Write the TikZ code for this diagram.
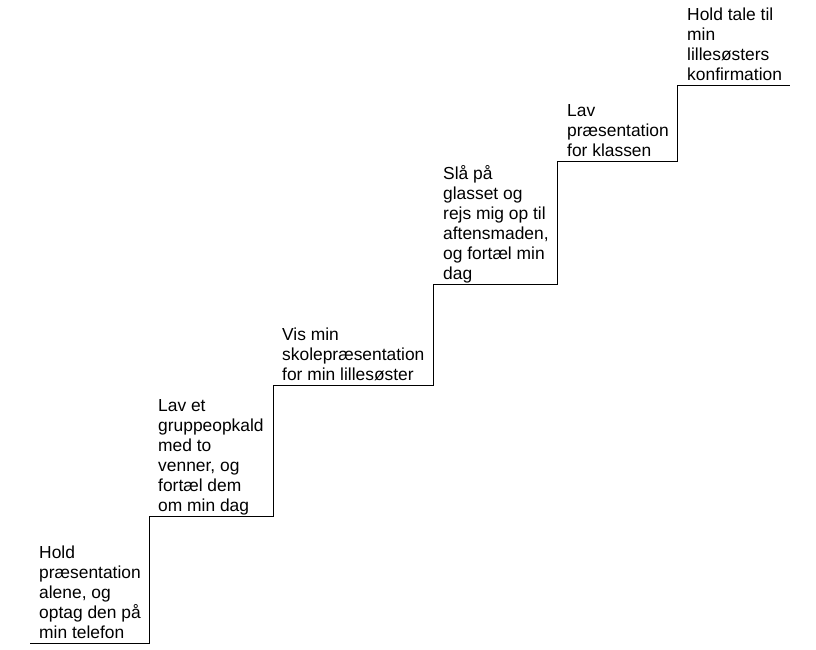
\documentclass[tikz,border=0pt]{standalone}
\usepackage{fontspec}
\setmainfont{Liberation Sans}
\begin{document}
\begin{tikzpicture}[x=1pt,y=-1pt,
  stairline/.style={draw=black,line width=1pt},
  lbl/.style={anchor=south west,align=left,inner sep=0pt,text depth=0pt,
    font=\fontsize{17.4}{20}\selectfont}]
\useasboundingbox (0,0) rectangle (816,649);
\coordinate (s0) at (30,643);
\coordinate (r1) at (149,643);
\coordinate (t1) at (149,516);
\coordinate (r2) at (273,516);
\coordinate (t2) at (273,385);
\coordinate (r3) at (433,385);
\coordinate (t3) at (433,284);
\coordinate (r4) at (557,284);
\coordinate (t4) at (557,161);
\coordinate (r5) at (677,161);
\coordinate (t5) at (677,85);
\coordinate (e6) at (790,85);
\draw[stairline] (s0) -- (r1) -- (t1) -- (r2) -- (t2) -- (r3) -- (t3) -- (r4) -- (t4) -- (r5) -- (t5) -- (e6);
\node[lbl] (l1) at (39,639) {Hold\\præsentation\\alene, og\\optag den på\\min telefon};
\node[lbl] (l2) at (158,512) {Lav et\\gruppeopkald\\med to\\venner, og\\fortæl dem\\om min dag};
\node[lbl] (l3) at (282,381) {Vis min\\skolepræsentation\\for min lillesøster};
\node[lbl] (l4) at (443,280) {Slå på\\glasset og\\rejs mig op til\\aftensmaden,\\og fortæl min\\dag};
\node[lbl] (l5) at (567,157) {Lav\\præsentation\\for klassen};
\node[lbl] (l6) at (687,81) {Hold tale til\\min\\lillesøsters\\konfirmation};
\end{tikzpicture}
\end{document}
